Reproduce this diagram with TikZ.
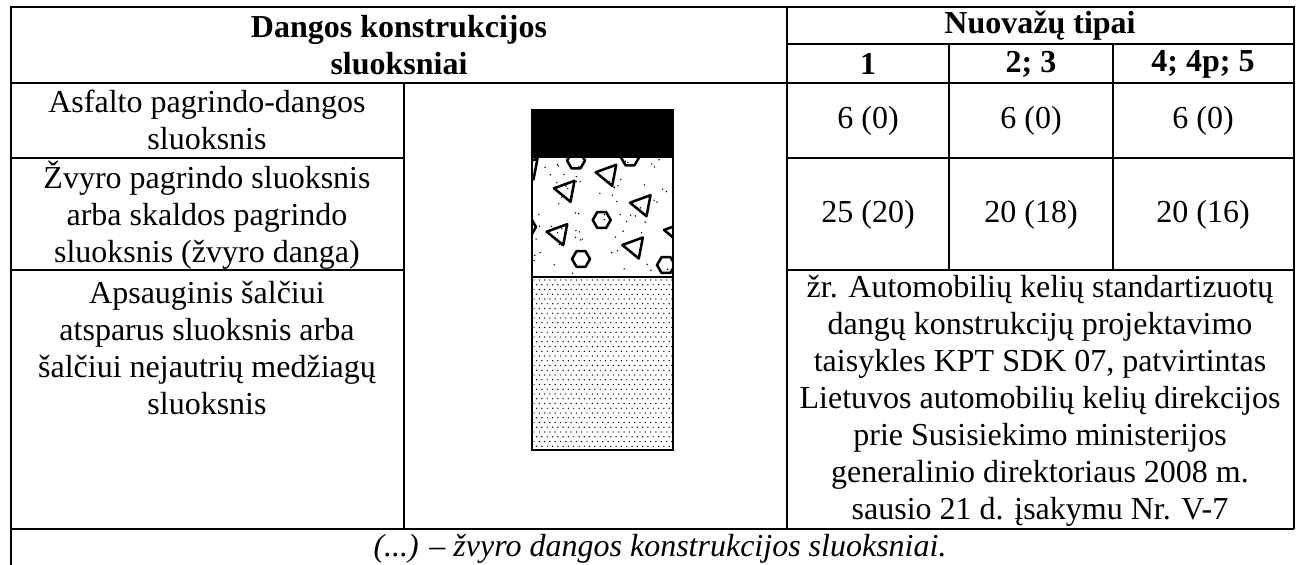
\documentclass[tikz,border=0pt]{standalone}
\usepackage{fontspec}
\setmainfont{Liberation Serif}
\newcommand\grtri[2]{\draw[grav] (#1,#2) -- ++(20.5,-7.5) -- ++(-4,21) -- cycle;}
\newcommand\grhex[2]{\draw[grav] (#1,#2) ++(9,0) -- ++(-4.5,7.8) -- ++(-9,0) -- ++(-4.5,-7.8) -- ++(4.5,-7.8) -- ++(9,0) -- cycle;}
\begin{document}
\begin{tikzpicture}[x=0.375pt,y=-0.375pt,
  tl/.style={line width=0.8pt},
  txt/.style={font=\fontsize{12}{13.9}\selectfont, align=center, inner sep=0pt},
  hd/.style={txt, font=\fontsize{12}{13.9}\selectfont\bfseries},
  it/.style={txt, font=\fontsize{12}{13.9}\selectfont\itshape},
  grav/.style={line width=0.95pt, line join=round}]
\useasboundingbox (0,0) rectangle (1296,565);

% table lines
\draw[tl] (11,565) -- (11,7) -- (1294,7) -- (1294,529);
\draw[tl] (787,7) -- (787,529);
\draw[tl] (787,44) -- (1294,44);
\draw[tl] (11,83) -- (1294,83);
\draw[tl] (404,83) -- (404,529);
\draw[tl] (11,158) -- (404,158) (787,158) -- (1294,158);
\draw[tl] (11,270) -- (404,270) (787,270) -- (1294,270);
\draw[tl] (11,529) -- (1294,529);
\draw[tl] (949,44) -- (949,270) (1113,44) -- (1113,270);

% header
\node[hd] (h1) at (399,45) {Dangos konstrukcijos\\sluoksniai};
\node[hd] (h2) at (1040,26) {Nuovažų tipai};
\node[hd] (t1) at (868,64) {1};
\node[hd] (t2) at (1031,64) {2; 3};
\node[hd] (t3) at (1203,64) {4; 4p; 5};

% rows
\node[txt] (r1) at (207,120) {Asfalto pagrindo-dangos\\sluoksnis};
\node[txt] (v11) at (868,121) {6 (0)};
\node[txt] (v12) at (1031,121) {6 (0)};
\node[txt] (v13) at (1203,121) {6 (0)};
\node[txt] (r2) at (207,215) {Žvyro pagrindo sluoksnis\\arba skaldos pagrindo\\sluoksnis (žvyro danga)};
\node[txt] (v21) at (868,215) {25 (20)};
\node[txt] (v22) at (1031,215) {20 (18)};
\node[txt] (v23) at (1203,215) {20 (16)};
\node[txt] (r3) at (207,348) {Apsauginis šalčiui\\atsparus sluoksnis arba\\šalčiui nejautrių medžiagų\\sluoksnis};
\node[txt] (v3) at (1040,401) {žr. Automobilių kelių standartizuotų\\dangų konstrukcijų projektavimo\\taisykles KPT SDK 07, patvirtintas\\Lietuvos automobilių kelių direkcijos\\prie Susisiekimo ministerijos\\generalinio direktoriaus 2008 m.\\sausio 21 d. įsakymu Nr. V-7};
\node[it] (fn) at (660,549) {(...) – žvyro dangos konstrukcijos sluoksniai.};

% pattern: asphalt
\fill (532,110) rectangle (673,157);
% gravel
\begin{scope}
\clip (532,157) rectangle (673,277);
\pgfmathsetseed{11}
\foreach \i in {1,...,70}{
  \pgfmathsetmacro\px{534+rnd*137}
  \pgfmathsetmacro\py{159+rnd*116}
  \fill (\px,\py) circle (0.3pt);
}
\grtri{595.7}{172.3}
\grtri{554}{188.3}
\grtri{630}{202.7}
\grtri{546.7}{231.7}
\grtri{622.3}{245}
\grtri{664}{230}
\grtri{517}{166}
\grhex{576}{160.5}
\grhex{630}{157.5}
\grhex{601.7}{220}
\grhex{581}{259}
\grhex{666}{265}
\grhex{527}{227}
\end{scope}
% sand
\begin{scope}
\clip (532,277) rectangle (673,450);
\foreach \r in {0,...,36}{
  \pgfmathsetmacro\off{mod(\r,2)*2.65}
  \foreach \c in {0,...,26}{
    \fill ({534+\c*5.3+\off},{280+\r*4.75}) circle (0.27pt);
  }
}
\end{scope}
\draw[line width=0.7pt] (532,110) rectangle (673,450);
\draw[line width=0.7pt] (532,157) -- (673,157) (532,277) -- (673,277);
\end{tikzpicture}
\end{document}
